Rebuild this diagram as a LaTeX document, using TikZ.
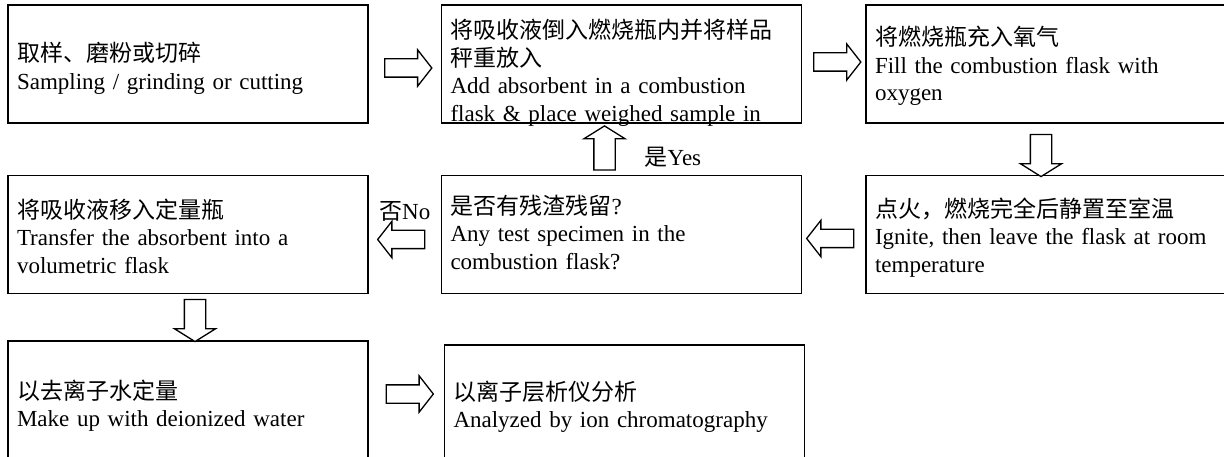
\documentclass[tikz,border=0pt]{standalone}
\usepackage{fontspec}
\setmainfont{Liberation Serif}
\newfontfamily\cjk{Noto Sans CJK SC}
\usetikzlibrary{positioning,shapes.arrows,calc}

\begin{document}
\begin{tikzpicture}[x=1pt,y=-1pt,
  stepbox/.style={draw,line width=1.5pt,fill=white,align=left,text width=342pt,inner xsep=9pt,minimum height=118pt,text height=0pt,text depth=#1,font=\fontsize{23}{27.5}\selectfont},
  stepbox/.default=20pt,
  flow/.style={single arrow,draw,line width=1.3pt,fill=white,inner xsep=0pt,inner ysep=8.5pt,minimum height=47pt,single arrow head extend=9pt,single arrow tip angle=104},
  vflow/.style={flow,inner ysep=10pt,minimum height=42pt,single arrow head extend=10pt,single arrow tip angle=116},
  lbl/.style={inner sep=1pt,font=\fontsize{23}{27.5}\selectfont}]
  \useasboundingbox (0,0) rectangle (1224,457);
  \node[stepbox=4pt] (sample) at (188,64) {{\cjk 取样、磨粉或切碎}\\Sampling / grinding or cutting};
  \node[stepbox=50pt,right=72pt of sample] (absorb) {{\cjk 将吸收液倒入燃烧瓶内并将样品}\\{\cjk 秤重放入}\\Add absorbent in a combustion\\flask \& place weighed sample in};
  \node[stepbox=36pt,right=63pt of absorb] (oxygen) {{\cjk 将燃烧瓶充入氧气}\\Fill the combustion flask with\\oxygen};
  \node[stepbox=34pt,below=51pt of oxygen] (ignite) {{\cjk 点火，燃烧完全后静置至室温}\\Ignite, then leave the flask at room\\temperature};
  \node[stepbox=40pt,left=63pt of ignite] (residue) {{\cjk 是否有残渣残留}?\\Any test specimen in the\\combustion flask?};
  \node[stepbox=32pt,left=72pt of residue] (transfer) {{\cjk 将吸收液移入定量瓶}\\Transfer the absorbent into a\\volumetric flask};
  \node[stepbox=2pt,below=46pt of transfer] (makeup) {{\cjk 以去离子水定量}\\Make up with deionized water};
  \node[stepbox=8pt,right=75pt of makeup,yshift=-4pt] (analyze) {{\cjk 以离子层析仪分析}\\Analyzed by ion chromatography};
  \node[flow,yshift=-4pt] (toabsorb) at ($(sample.east)!.5!(absorb.west)$) {};
  \node[flow,yshift=2pt] (tooxygen) at ($(absorb.east)!.5!(oxygen.west)$) {};
  \node[vflow,xshift=-5pt,yshift=-3pt,rotate=270] (toignite) at ($(oxygen.south)!.5!(ignite.north)$) {};
  \node[flow,yshift=-4pt,rotate=180] (toresidue) at ($(ignite.west)!.5!(residue.east)$) {};
  \node[vflow,minimum height=44pt,xshift=-17pt,yshift=-2pt,rotate=90] (yesarrow) at ($(residue.north)!.5!(absorb.south)$) {};
  \node[flow,yshift=-5pt,rotate=180] (noarrow) at ($(residue.west)!.5!(transfer.east)$) {};
  \node[vflow,xshift=7pt,rotate=270] (tomakeup) at ($(transfer.south)!.5!(makeup.north)$) {};
  \node[flow,yshift=8pt] (toanalyze) at ($(makeup.east)!.5!(analyze.west)$) {};
  \node[lbl,anchor=west] (yes) at ($(yesarrow.center)+(39,6)$) {{\cjk 是}Yes};
  \node[lbl] (no) at ($(noarrow.center)+(0,-28)$) {{\cjk 否}No};
\end{tikzpicture}
\end{document}
